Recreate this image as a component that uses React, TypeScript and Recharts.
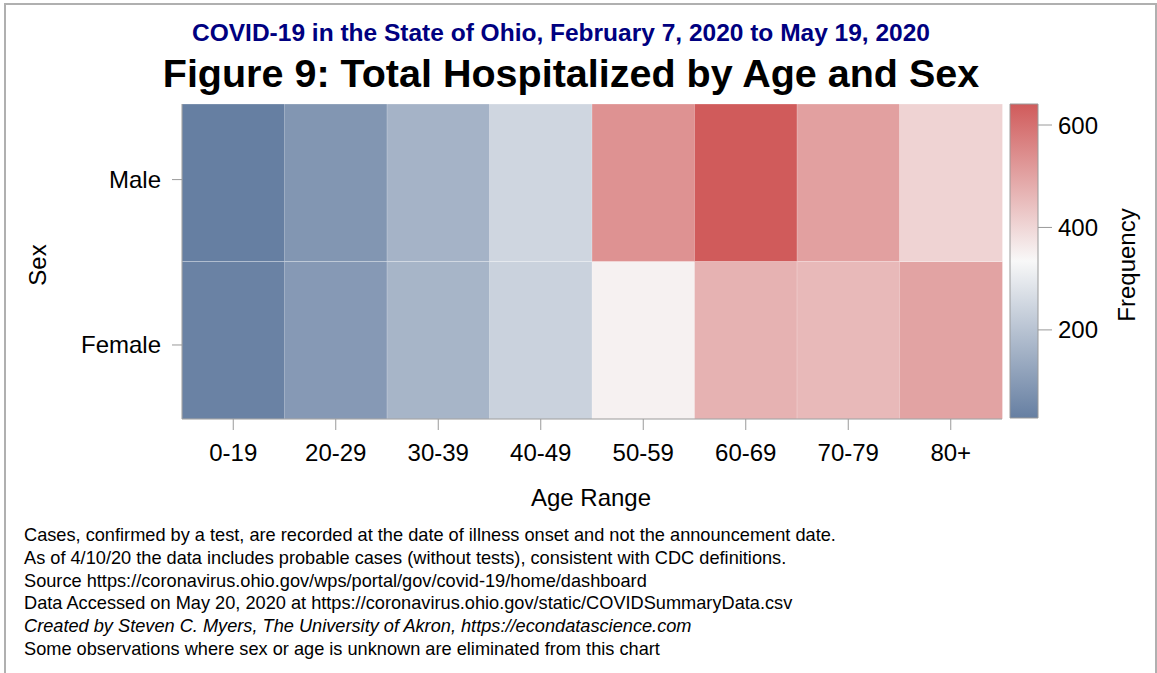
import { BarChart, Bar, Cell, XAxis, YAxis, ReferenceArea } from "recharts"

const ageGroups = ["0-19", "20-29", "30-39", "40-49", "50-59", "60-69", "70-79", "80+"]
const sexes = ["Female", "Male"]
const maleCounts = [28, 86, 160, 248, 534, 641, 506, 407]
const femaleCounts = [36, 95, 164, 238, 348, 471, 457, 500]
const freqTicks = [200, 400, 600]

const notes = [
  "Cases, confirmed by a test, are recorded at the date of illness onset and not the announcement date.",
  "As of 4/10/20 the data includes probable cases (without tests), consistent with CDC definitions.",
  "Source https://coronavirus.ohio.gov/wps/portal/gov/covid-19/home/dashboard",
  "Data Accessed on May 20, 2020 at https://coronavirus.ohio.gov/static/COVIDSummaryData.csv",
  "Created by Steven C. Myers, The University of Akron, https://econdatascience.com",
  "Some observations where sex or age is unknown are eliminated from this chart",
]

const FONT = "'Liberation Sans', Arial, sans-serif"
const LOW = [0x66, 0x7f, 0xa2]
const MID = [0xf8, 0xf8, 0xf8]
const HIGH = [0xd0, 0x5b, 0x5b]
const FRAME = "#9a9a9a"

const allCounts = [...maleCounts, ...femaleCounts]
const minV = Math.min(...allCounts)
const maxV = Math.max(...allCounts)

function mix(a: number[], b: number[], t: number) {
  const c = a.map((v, i) => Math.round(v + (b[i] - v) * t))
  return `rgb(${c[0]},${c[1]},${c[2]})`
}

function rampColor(v: number) {
  const t = (v - minV) / (maxV - minV)
  return t < 0.5 ? mix(LOW, MID, t * 2) : mix(MID, HIGH, (t - 0.5) * 2)
}

// each sex is one unit-high band of the stack
const data = ageGroups.map((age, i) => ({
  age,
  Female: 1,
  Male: 1,
  femaleCount: femaleCounts[i],
  maleCount: maleCounts[i],
}))

const rampData = [{ k: "ramp", v: maxV }]

const tickStyle = { fontSize: 24, fill: "#000", fontFamily: FONT }

export default function App() {
  return (
    <div style={{ position: "absolute", left: 0, top: 0, width: 1157, height: 673, background: "#fff", fontFamily: FONT }}>
      <div style={{ position: "absolute", left: 4, top: 3, width: 1149, height: 720, border: "2px solid #b0b0b0" }} />
      <svg width={0} height={0} style={{ position: "absolute" }}>
        <defs>
          <linearGradient id="freqRamp" x1="0" y1="0" x2="0" y2="1">
            <stop offset="0%" stopColor={mix(HIGH, HIGH, 0)} />
            <stop offset="50%" stopColor={mix(MID, MID, 0)} />
            <stop offset="100%" stopColor={mix(LOW, LOW, 0)} />
          </linearGradient>
        </defs>
      </svg>

      <div style={{ position: "absolute", left: 0, top: 0 }}>
        <BarChart width={1157} height={673} data={data} margin={{ top: 104, right: 155, bottom: 224, left: 102 }} barCategoryGap={0}>
          <XAxis dataKey="age" height={30} tick={tickStyle} tickSize={11} tickMargin={14} tickLine={{ stroke: FRAME }} axisLine={{ stroke: FRAME }} />
          <XAxis xAxisId="top" dataKey="age" orientation="top" height={0} tick={false} tickLine={false} axisLine={{ stroke: FRAME }} />
          <YAxis type="number" domain={[0, 2]} ticks={[0.47, 1.52]} tickFormatter={(v: number) => sexes[Math.floor(v)]} width={80} tick={tickStyle} tickSize={10} tickMargin={11} tickLine={{ stroke: FRAME }} axisLine={{ stroke: FRAME }} />
          <YAxis yAxisId="right" type="number" domain={[0, 2]} orientation="right" width={0} tick={false} tickLine={false} axisLine={{ stroke: FRAME }} />
          <Bar dataKey="Female" stackId="s" isAnimationActive={false}>
            {data.map((d) => (
              <Cell key={`f-${d.age}`} fill={rampColor(d.femaleCount)} stroke="#ffffff" strokeOpacity={0.25} />
            ))}
          </Bar>
          <Bar dataKey="Male" stackId="s" isAnimationActive={false}>
            {data.map((d) => (
              <Cell key={`m-${d.age}`} fill={rampColor(d.maleCount)} stroke="#ffffff" strokeOpacity={0.25} />
            ))}
          </Bar>
        </BarChart>
      </div>

      <div style={{ position: "absolute", left: 1000, top: 0 }}>
        <BarChart width={157} height={673} data={rampData} margin={{ top: 104, right: 59, bottom: 255, left: 10 }} barCategoryGap={0}>
          <XAxis dataKey="k" hide />
          <YAxis type="number" orientation="right" domain={[minV, maxV]} ticks={freqTicks} width={60} tick={tickStyle} tickSize={14} tickMargin={6} tickLine={{ stroke: FRAME }} axisLine={false} allowDataOverflow />
          <Bar dataKey="v" fill="none" isAnimationActive={false} />
          <ReferenceArea y1={minV} y2={maxV} fill="url(#freqRamp)" fillOpacity={1} stroke={FRAME} ifOverflow="visible" />
        </BarChart>
      </div>

      <svg width={1157} height={673} style={{ position: "absolute", left: 0, top: 0, pointerEvents: "none" }} fontFamily={FONT}>
        <text x={561} y={41} textAnchor="middle" fontSize={24.5} fontWeight="bold" fill="#000080">
          COVID-19 in the State of Ohio, February 7, 2020 to May 19, 2020
        </text>
        <text x={571} y={87} textAnchor="middle" fontSize={39.5} fontWeight="bold" fill="#000">
          Figure 9: Total Hospitalized by Age and Sex
        </text>
        <text x={591} y={506} textAnchor="middle" fontSize={24} fill="#000">Age Range</text>
        <text x={38} y={265} textAnchor="middle" dy="0.35em" fontSize={24} fill="#000" transform="rotate(-90 38 265)">Sex</text>
        <text x={1127} y={265} textAnchor="middle" dy="0.35em" fontSize={24} fill="#000" transform="rotate(-90 1127 265)">Frequency</text>
        {notes.map((line, i) => (
          <text key={i} x={24} y={541 + i * 22.8} fontSize={18.2} fill="#000" fontStyle={i === 4 ? "italic" : "normal"}>
            {line}
          </text>
        ))}
      </svg>
    </div>
  )
}
